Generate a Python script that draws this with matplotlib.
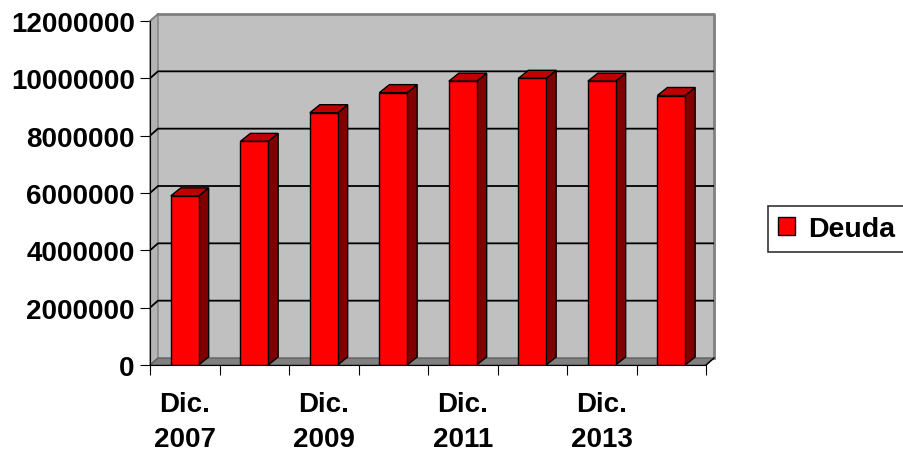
import matplotlib.pyplot as plt
from matplotlib.patches import Polygon
import numpy as np

plt.rcParams['font.family'] = ['Liberation Sans', 'DejaVu Sans']
plt.rcParams['font.weight'] = 'bold'

# data
categories = ['Dic.\n2007', 'Dic.\n2008', 'Dic.\n2009', 'Dic.\n2010',
              'Dic.\n2011', 'Dic.\n2012', 'Dic.\n2013', 'Dic.\n2014']
deuda = [5900000, 7800000, 8800000, 9500000, 9900000, 10000000, 9900000, 9400000]
yticks = [0, 2000000, 4000000, 6000000, 8000000, 10000000, 12000000]
series_name = 'Deuda'

n = len(categories)
ymax = yticks[-1]
# 3d depth offsets (data units)
wdx, wdy = 0.115, 0.244e6
bdx, bdy = 0.144, 0.28e6
bw = 0.4

fig = plt.figure(figsize=(9.04, 4.52), dpi=100)
ax = fig.add_axes([150/904, 1-366/452, 564/904, 351/452])
ax.set_xlim(0, n + wdx)
ax.set_ylim(0, ymax + wdy)
ax.patch.set_visible(False)

# walls
back = Polygon([(wdx, wdy), (n+wdx, wdy), (n+wdx, ymax+wdy), (wdx, ymax+wdy)],
               closed=True, facecolor='#C0C0C0', edgecolor='none', zorder=0)
ax.add_patch(back)
ax.plot([wdx, n+wdx, n+wdx], [ymax+wdy, ymax+wdy, wdy], color='#808080', lw=2, zorder=1, clip_on=False)
side = Polygon([(0, 0), (wdx, wdy), (wdx, ymax+wdy), (0, ymax)],
               closed=True, facecolor='#B4B4B4', edgecolor='#808080', lw=1, zorder=1, clip_on=False)
ax.add_patch(side)
floor = Polygon([(0, 0), (n, 0), (n+wdx, wdy), (wdx, wdy)],
                closed=True, facecolor='#808080', edgecolor='#606060', lw=1, zorder=1, clip_on=False)
ax.add_patch(floor)

# gridlines on back and side walls
for v in yticks[1:-1]:
    ax.plot([0, wdx, n+wdx], [v, v+wdy, v+wdy], color='black', lw=1.3, zorder=2)
ax.plot([0, wdx], [ymax, ymax+wdy], color='#808080', lw=1.3, zorder=2, clip_on=False)
ax.plot([n, n+wdx], [0, wdy], color='black', lw=1, zorder=2, clip_on=False)

# bars
x = np.arange(n) + 0.5
bars = ax.bar(x, deuda, width=bw, color='#FF0000', edgecolor='black', lw=1, zorder=5, label=series_name)
for xi, v in zip(x, deuda):
    x0, x1 = xi - bw/2, xi + bw/2
    ax.add_patch(Polygon([(x1, 0), (x1+bdx, bdy), (x1+bdx, v+bdy), (x1, v)],
                         closed=True, facecolor='#800000', edgecolor='black', lw=1, zorder=4))
    ax.add_patch(Polygon([(x0, v), (x0+bdx, v+bdy), (x1+bdx, v+bdy), (x1, v)],
                         closed=True, facecolor='#C00000', edgecolor='black', lw=1, zorder=4))

# axes
for s in ['top', 'right']:
    ax.spines[s].set_visible(False)
ax.spines['left'].set_bounds(0, ymax)
ax.spines['bottom'].set_bounds(0, n)
ax.spines['left'].set_zorder(6)
ax.spines['bottom'].set_zorder(6)
ax.set_yticks(yticks)
ax.set_yticklabels([str(t) for t in yticks], fontsize=20, fontweight='bold')
ax.set_xticks(np.arange(n + 1))
ax.set_xticklabels([])
ax.set_xticks(x[::2], minor=True)
ax.set_xticklabels(categories[::2], minor=True, fontsize=20, fontweight='bold', linespacing=1.45)
ax.tick_params(axis='y', length=7, pad=4)
ax.tick_params(axis='x', which='major', length=7)
ax.tick_params(axis='x', which='minor', length=0, pad=19)

leg = ax.legend(handles=[bars], loc='center left', bbox_to_anchor=(768/904, 1-230/452),
                bbox_transform=fig.transFigure, fontsize=20.5, frameon=True, fancybox=False,
                handlelength=0.6, handleheight=0.6, handletextpad=0.45, borderpad=0.35,
                borderaxespad=0)
leg.get_frame().set_edgecolor('black')
leg.get_frame().set_linewidth(1.2)

fig.savefig('out.png', dpi=100)
